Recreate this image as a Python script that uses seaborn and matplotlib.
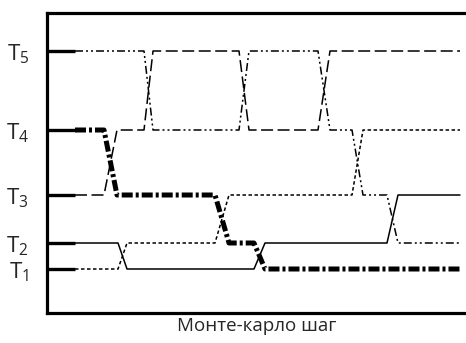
import numpy as np
import pandas as pd
import matplotlib
matplotlib.use("Agg")
import matplotlib.pyplot as plt
import seaborn as sns

# ---- data -------------------------------------------------------------
level_labels = [r"$\mathrm{T}_{1}$", r"$\mathrm{T}_{2}$", r"$\mathrm{T}_{3}$",
                r"$\mathrm{T}_{4}$", r"$\mathrm{T}_{5}$"]
level_values = [44, 70, 118, 183, 262]          # vertical position of T1..T5

# replica trajectories: MC step (x) and temperature level index (1..5)
thick_x = [28, 57, 70, 168, 182, 207, 218, 413]
thick_lv = [4, 4, 3, 3, 2, 2, 1, 1]

dash_x = [28, 57, 70, 97, 106, 192, 202, 271, 283, 413]
dash_lv = [3, 3, 4, 4, 5, 5, 4, 4, 5, 5]

dashdot_x = [28, 97, 106, 192, 202, 271, 283, 305, 316, 340, 351, 413]
dashdot_lv = [5, 5, 4, 4, 5, 5, 4, 4, 3, 3, 2, 2]

solid_x = [28, 71, 80, 207, 218, 340, 351, 413]
solid_lv = [2, 2, 1, 1, 2, 2, 3, 3]

dotted_x = [28, 71, 80, 168, 182, 305, 316, 413]
dotted_lv = [1, 1, 2, 2, 3, 3, 4, 4]

xlabel = "Монте-карло шаг"

# ---- style ------------------------------------------------------------
sns.set_style("white")
plt.rcParams["font.family"] = ["Open Sans", "DejaVu Sans"]
plt.rcParams["mathtext.fontset"] = "custom"
plt.rcParams["mathtext.rm"] = "Open Sans"
plt.rcParams["mathtext.it"] = "Open Sans:italic"
plt.rcParams["lines.scale_dashes"] = False

fig = plt.figure(figsize=(4.66, 3.43), dpi=100)
ax = fig.add_axes([47 / 466, 1 - 313 / 343, 1 - 47 / 466, (313 - 13) / 343])

px = 0.72  # points per pixel


def lv_to_y(lv):
    return np.array([level_values[i - 1] for i in lv], dtype=float)


series = [
    (solid_x, solid_lv, "-", 1.1),
    (dotted_x, dotted_lv, (0, (3.5 * px, 2.5 * px)), 1.1),
    (dash_x, dash_lv, (0, (12 * px, 4.5 * px)), 1.1),
    (dashdot_x, dashdot_lv, (0, (8 * px, 3 * px, 2 * px, 3 * px, 2 * px, 3 * px)), 1.1),
    (thick_x, thick_lv, (0, (11 * px, 3 * px, 3 * px, 3 * px)), 3.6),
]

for xs, lv, ls, lw in series:
    df = pd.DataFrame({"x": np.array(xs, dtype=float), "y": lv_to_y(lv)})
    sns.lineplot(data=df, x="x", y="y", ax=ax, sort=False, estimator=None,
                 color="black", linewidth=lw, linestyle=ls)

ax.set_xlim(0, 419)
ax.set_ylim(0, 300)
ax.set_xticks([])
ax.set_yticks(level_values)
ax.set_yticklabels(level_labels, fontsize=16)
ax.tick_params(axis="y", direction="in", length=20, width=2.4, pad=13,
               color="black", left=True)
ax.set_ylabel("")
ax.set_xlabel(xlabel, fontsize=13.5, labelpad=3)

for side in ["left", "top", "bottom"]:
    ax.spines[side].set_visible(True)
    ax.spines[side].set_linewidth(2.3)
    ax.spines[side].set_color("black")
ax.spines["right"].set_visible(False)

fig.savefig("out.png", dpi=100)
